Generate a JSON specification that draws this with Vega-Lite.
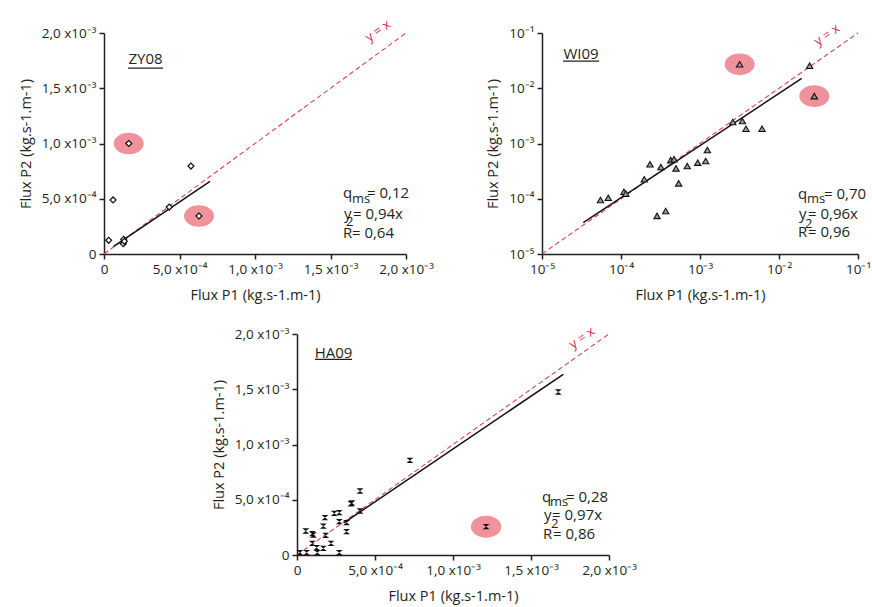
{
  "$schema": "https://vega.github.io/schema/vega-lite/v6.json",
  "background": "white",
  "padding": {"left": 18, "top": 18, "right": 5, "bottom": 5},
  "config": {
    "view": {"stroke": null},
    "font": "Open Sans",
    "axis": {"grid": false, "domainColor": "#231f20", "domainWidth": 1.5, "tickColor": "#231f20", "tickWidth": 1.5, "tickSize": 5, "labelFont": "Open Sans", "labelFontSize": 13.5, "labelColor": "#231f20", "titleFont": "Open Sans", "titleFontSize": 14.5, "titleFontWeight": "normal", "titleColor": "#231f20", "labelOverlap": false, "labelFlush": false, "labelBound": false, "labelPadding": 3},
    "axisX": {"titlePadding": 13},
    "axisY": {"titlePadding": 8}
  },
  "datasets": {
    "diag_lin": [{"x": 0, "y": 0}, {"x": 0.002, "y": 0.002}],
    "diag_log": [{"x": 1e-5, "y": 1e-5}, {"x": 0.1, "y": 0.1}],
    "zy_pts": [
      {"x": 1.64e-4, "y": 1.0e-3, "hl": 1},
      {"x": 5.76e-4, "y": 7.96e-4, "hl": 0},
      {"x": 6.0e-5, "y": 4.89e-4, "hl": 0},
      {"x": 4.32e-4, "y": 4.25e-4, "hl": 0},
      {"x": 6.29e-4, "y": 3.44e-4, "hl": 1},
      {"x": 3.1e-5, "y": 1.24e-4, "hl": 0},
      {"x": 1.3e-4, "y": 1.33e-4, "hl": 0},
      {"x": 1.28e-4, "y": 9.3e-5, "hl": 0},
      {"x": 1.35e-4, "y": 1.15e-4, "hl": 0}
    ],
    "zy_fit": [{"x": 6.2e-5, "y": 6.6e-5}, {"x": 7.02e-4, "y": 6.58e-4}],
    "zy_ul": [{"x": 1.59e-4, "y": 1.683e-3}, {"x": 3.91e-4, "y": 1.683e-3}],
    "zy_title": [{"x": 2.75e-4, "y": 1.765e-3, "t": "ZY08"}],
    "zy_yx": [{"x": 1.815e-3, "y": 2.018e-3, "t": "y = x"}],
    "zy_txt": [
      {"x": 1.583e-3, "y": 0.552e-3, "t": "q"},
      {"x": 1.742e-3, "y": 0.552e-3, "t": "= 0,12"},
      {"x": 1.589e-3, "y": 0.362e-3, "t": "y"},
      {"x": 1.649e-3, "y": 0.362e-3, "t": "= 0,94x"},
      {"x": 1.583e-3, "y": 0.19e-3, "t": "R"},
      {"x": 1.642e-3, "y": 0.19e-3, "t": "= 0,64"}
    ],
    "zy_sub": [
      {"x": 1.642e-3, "y": 0.498e-3, "t": "ms"},
      {"x": 1.603e-3, "y": 0.29e-3, "t": "2"}
    ],
    "wi_pts": [
      {"x": 5.5e-5, "y": 9.5e-5, "hl": 0},
      {"x": 6.9e-5, "y": 1.04e-4, "hl": 0},
      {"x": 1.09e-4, "y": 1.34e-4, "hl": 0},
      {"x": 1.15e-4, "y": 1.24e-4, "hl": 0},
      {"x": 1.97e-4, "y": 2.25e-4, "hl": 0},
      {"x": 2.33e-4, "y": 4.2e-4, "hl": 0},
      {"x": 3.2e-4, "y": 3.76e-4, "hl": 0},
      {"x": 2.86e-4, "y": 4.9e-5, "hl": 0},
      {"x": 3.68e-4, "y": 6.0e-5, "hl": 0},
      {"x": 4.26e-4, "y": 5.0e-4, "hl": 0},
      {"x": 4.69e-4, "y": 5.2e-4, "hl": 0},
      {"x": 4.97e-4, "y": 3.55e-4, "hl": 0},
      {"x": 5.37e-4, "y": 1.9e-4, "hl": 0},
      {"x": 6.9e-4, "y": 3.92e-4, "hl": 0},
      {"x": 9.35e-4, "y": 4.5e-4, "hl": 0},
      {"x": 1.18e-3, "y": 4.82e-4, "hl": 0},
      {"x": 1.24e-3, "y": 7.6e-4, "hl": 0},
      {"x": 2.6e-3, "y": 2.45e-3, "hl": 0},
      {"x": 3.44e-3, "y": 2.55e-3, "hl": 0},
      {"x": 3.82e-3, "y": 1.85e-3, "hl": 0},
      {"x": 6.1e-3, "y": 1.85e-3, "hl": 0},
      {"x": 3.18e-3, "y": 2.71e-2, "hl": 1},
      {"x": 2.44e-2, "y": 2.56e-2, "hl": 0},
      {"x": 2.8e-2, "y": 7.2e-3, "hl": 1}
    ],
    "wi_fit": [{"x": 3.33e-5, "y": 3.69e-5}, {"x": 1.94e-2, "y": 1.51e-2}],
    "wi_ul": [{"x": 1.85e-5, "y": 3.11e-2}, {"x": 5.28e-5, "y": 3.11e-2}],
    "wi_title": [{"x": 3.12e-5, "y": 4.17e-2, "t": "WI09"}],
    "wi_yx": [{"x": 4.06e-2, "y": 9.2e-2, "t": "y = x"}],
    "wi_txt": [
      {"x": 1.74e-2, "y": 1.22e-4, "t": "q"},
      {"x": 3.72e-2, "y": 1.22e-4, "t": "= 0,70"},
      {"x": 1.79e-2, "y": 5.3e-5, "t": "y"},
      {"x": 2.33e-2, "y": 5.3e-5, "t": "= 0,96x"},
      {"x": 1.74e-2, "y": 2.5e-5, "t": "R"},
      {"x": 2.33e-2, "y": 2.5e-5, "t": "= 0,96"}
    ],
    "wi_sub": [
      {"x": 2.26e-2, "y": 9.9e-5, "t": "ms"},
      {"x": 2.13e-2, "y": 3.49e-5, "t": "2"}
    ],
    "ha_pts": [
      {"x": 1.675e-3, "y": 1.475e-3, "hl": 0},
      {"x": 0.724e-3, "y": 0.857e-3, "hl": 0},
      {"x": 0.404e-3, "y": 0.579e-3, "hl": 0},
      {"x": 0.346e-3, "y": 0.464e-3, "hl": 0},
      {"x": 0.352e-3, "y": 0.472e-3, "hl": 0},
      {"x": 0.404e-3, "y": 0.398e-3, "hl": 0},
      {"x": 0.239e-3, "y": 0.377e-3, "hl": 0},
      {"x": 0.271e-3, "y": 0.383e-3, "hl": 0},
      {"x": 0.179e-3, "y": 0.338e-3, "hl": 0},
      {"x": 0.271e-3, "y": 0.302e-3, "hl": 0},
      {"x": 0.318e-3, "y": 0.293e-3, "hl": 0},
      {"x": 0.318e-3, "y": 0.211e-3, "hl": 0},
      {"x": 0.169e-3, "y": 0.262e-3, "hl": 0},
      {"x": 0.056e-3, "y": 0.217e-3, "hl": 0},
      {"x": 0.098e-3, "y": 0.193e-3, "hl": 0},
      {"x": 0.105e-3, "y": 0.181e-3, "hl": 0},
      {"x": 0.184e-3, "y": 0.178e-3, "hl": 0},
      {"x": 0.098e-3, "y": 0.106e-3, "hl": 0},
      {"x": 0.218e-3, "y": 0.106e-3, "hl": 0},
      {"x": 0.126e-3, "y": 0.066e-3, "hl": 0},
      {"x": 0.169e-3, "y": 0.06e-3, "hl": 0},
      {"x": 0.13e-3, "y": 0.021e-3, "hl": 0},
      {"x": 0.271e-3, "y": 0.021e-3, "hl": 0},
      {"x": 0.019e-3, "y": 0.021e-3, "hl": 0},
      {"x": 0.062e-3, "y": 0.021e-3, "hl": 0},
      {"x": 1.212e-3, "y": 0.256e-3, "hl": 1}
    ],
    "ha_fit": [{"x": 0.30e-3, "y": 0.29e-3}, {"x": 1.707e-3, "y": 1.635e-3}],
    "ha_ul": [{"x": 0.115e-3, "y": 1.771e-3}, {"x": 0.353e-3, "y": 1.771e-3}],
    "ha_title": [{"x": 0.234e-3, "y": 1.831e-3, "t": "HA09"}],
    "ha_yx": [{"x": 1.827e-3, "y": 1.964e-3, "t": "y = x"}],
    "ha_txt": [
      {"x": 1.571e-3, "y": 0.525e-3, "t": "q"},
      {"x": 1.724e-3, "y": 0.525e-3, "t": "= 0,28"},
      {"x": 1.583e-3, "y": 0.362e-3, "t": "y"},
      {"x": 1.635e-3, "y": 0.362e-3, "t": "= 0,97x"},
      {"x": 1.577e-3, "y": 0.19e-3, "t": "R"},
      {"x": 1.641e-3, "y": 0.19e-3, "t": "= 0,86"}
    ],
    "ha_sub": [
      {"x": 1.622e-3, "y": 0.48e-3, "t": "ms"},
      {"x": 1.628e-3, "y": 0.281e-3, "t": "2"}
    ],
    "spacer": [{"a": 0}]
  },
  "spacing": 23,
  "vconcat": [
    {
      "bounds": "flush",
      "spacing": 136,
      "hconcat": [
        {
          "width": 302,
          "height": 221,
          "encoding": {
            "x": {"field": "x", "type": "quantitative", "title": "Flux P1 (kg.s-1.m-1)", "scale": {"domain": [0, 0.002], "nice": false, "zero": false}, "axis": {"values": [0, 0.0005, 0.001, 0.0015, 0.002], "labelExpr": "datum.value == 0 ? '0' : datum.value < 0.0008 ? '5,0 x10⁻⁴' : datum.value < 0.0012 ? '1,0 x10⁻³' : datum.value < 0.0017 ? '1,5 x10⁻³' : '2,0 x10⁻³'"}},
            "y": {"field": "y", "type": "quantitative", "title": "Flux P2 (kg.s-1.m-1)", "scale": {"domain": [0, 0.002], "nice": false, "zero": false}, "axis": {"values": [0, 0.0005, 0.001, 0.0015, 0.002], "labelExpr": "datum.value == 0 ? '0' : datum.value < 0.0008 ? '5,0 x10⁻⁴' : datum.value < 0.0012 ? '1,0 x10⁻³' : datum.value < 0.0017 ? '1,5 x10⁻³' : '2,0 x10⁻³'"}}
          },
          "layer": [
            {"data": {"name": "zy_pts"}, "transform": [{"filter": "datum.hl == 1"}], "mark": {"type": "point", "shape": "M-1,0A1,0.72,0,1,1,1,0A1,0.72,0,1,1,-1,0Z", "filled": true, "color": "#f0929b", "opacity": 1, "size": 900}},
            {"data": {"name": "diag_lin"}, "mark": {"type": "line", "color": "#d9425a", "strokeDash": [5, 3], "strokeWidth": 1.1}},
            {"data": {"name": "zy_fit"}, "mark": {"type": "line", "color": "#111111", "strokeWidth": 1.5}},
            {"data": {"name": "zy_ul"}, "mark": {"type": "line", "color": "#231f20", "strokeWidth": 1.3}},
            {"data": {"name": "zy_pts"}, "mark": {"type": "point", "shape": "diamond", "filled": true, "fill": "white", "stroke": "#111111", "strokeWidth": 1.2, "opacity": 1, "size": 36}},
            {"data": {"name": "zy_title"}, "mark": {"type": "text", "fontSize": 15, "align": "center", "baseline": "middle", "color": "#231f20"}, "encoding": {"text": {"field": "t"}}},
            {"data": {"name": "zy_yx"}, "mark": {"type": "text", "fontSize": 13, "align": "center", "baseline": "middle", "angle": 324, "color": "#d42c4f"}, "encoding": {"text": {"field": "t"}}},
            {"data": {"name": "zy_txt"}, "mark": {"type": "text", "fontSize": 15, "align": "left", "baseline": "middle", "color": "#231f20"}, "encoding": {"text": {"field": "t"}}},
            {"data": {"name": "zy_sub"}, "mark": {"type": "text", "fontSize": 13, "align": "left", "baseline": "middle", "color": "#231f20"}, "encoding": {"text": {"field": "t"}}}
          ]
        },
        {
          "width": 316,
          "height": 221,
          "encoding": {
            "x": {"field": "x", "type": "quantitative", "title": "Flux P1 (kg.s-1.m-1)", "scale": {"type": "log", "domain": [1e-5, 0.1], "nice": false}, "axis": {"values": [1e-5, 1e-4, 1e-3, 1e-2, 1e-1], "labelExpr": "'10' + ['⁻⁵','⁻⁴','⁻³','⁻²','⁻¹'][round(log(datum.value)/LN10) + 5]"}},
            "y": {"field": "y", "type": "quantitative", "title": "Flux P2 (kg.s-1.m-1)", "scale": {"type": "log", "domain": [1e-5, 0.1], "nice": false}, "axis": {"values": [1e-5, 1e-4, 1e-3, 1e-2, 1e-1], "labelExpr": "'10' + ['⁻⁵','⁻⁴','⁻³','⁻²','⁻¹'][round(log(datum.value)/LN10) + 5]"}}
          },
          "layer": [
            {"data": {"name": "wi_pts"}, "transform": [{"filter": "datum.hl == 1"}], "mark": {"type": "point", "shape": "M-1,0A1,0.72,0,1,1,1,0A1,0.72,0,1,1,-1,0Z", "filled": true, "color": "#f0929b", "opacity": 1, "size": 900}},
            {"data": {"name": "diag_log"}, "mark": {"type": "line", "color": "#d9425a", "strokeDash": [5, 3], "strokeWidth": 1.1}},
            {"data": {"name": "wi_fit"}, "mark": {"type": "line", "color": "#111111", "strokeWidth": 1.5}},
            {"data": {"name": "wi_ul"}, "mark": {"type": "line", "color": "#231f20", "strokeWidth": 1.3}},
            {"data": {"name": "wi_pts"}, "mark": {"type": "point", "shape": "triangle-up", "filled": true, "fill": "#9a9a9a", "stroke": "#111111", "strokeWidth": 1.1, "opacity": 1, "size": 40}},
            {"data": {"name": "wi_title"}, "mark": {"type": "text", "fontSize": 15, "align": "center", "baseline": "middle", "color": "#231f20"}, "encoding": {"text": {"field": "t"}}},
            {"data": {"name": "wi_yx"}, "mark": {"type": "text", "fontSize": 13, "align": "center", "baseline": "middle", "angle": 325, "color": "#d42c4f"}, "encoding": {"text": {"field": "t"}}},
            {"data": {"name": "wi_txt"}, "mark": {"type": "text", "fontSize": 15, "align": "left", "baseline": "middle", "color": "#231f20"}, "encoding": {"text": {"field": "t"}}},
            {"data": {"name": "wi_sub"}, "mark": {"type": "text", "fontSize": 13, "align": "left", "baseline": "middle", "color": "#231f20"}, "encoding": {"text": {"field": "t"}}}
          ]
        }
      ]
    },
    {
      "bounds": "flush",
      "spacing": 183,
      "hconcat": [
        {
          "width": 10,
          "height": 221,
          "data": {"name": "spacer"},
          "mark": {"type": "point", "opacity": 0},
          "encoding": {}
        },
        {
          "width": 312,
          "height": 221,
          "encoding": {
            "x": {"field": "x", "type": "quantitative", "title": "Flux P1 (kg.s-1.m-1)", "scale": {"domain": [0, 0.002], "nice": false, "zero": false}, "axis": {"values": [0, 0.0005, 0.001, 0.0015, 0.002], "labelExpr": "datum.value == 0 ? '0' : datum.value < 0.0008 ? '5,0 x10⁻⁴' : datum.value < 0.0012 ? '1,0 x10⁻³' : datum.value < 0.0017 ? '1,5 x10⁻³' : '2,0 x10⁻³'"}},
            "y": {"field": "y", "type": "quantitative", "title": "Flux P2 (kg.s-1.m-1)", "scale": {"domain": [0, 0.002], "nice": false, "zero": false}, "axis": {"values": [0, 0.0005, 0.001, 0.0015, 0.002], "labelExpr": "datum.value == 0 ? '0' : datum.value < 0.0008 ? '5,0 x10⁻⁴' : datum.value < 0.0012 ? '1,0 x10⁻³' : datum.value < 0.0017 ? '1,5 x10⁻³' : '2,0 x10⁻³'"}}
          },
          "layer": [
            {"data": {"name": "ha_pts"}, "transform": [{"filter": "datum.hl == 1"}], "mark": {"type": "point", "shape": "M-1,0A1,0.72,0,1,1,1,0A1,0.72,0,1,1,-1,0Z", "filled": true, "color": "#f0929b", "opacity": 1, "size": 930}},
            {"data": {"name": "diag_lin"}, "mark": {"type": "line", "color": "#d9425a", "strokeDash": [5, 3], "strokeWidth": 1.1}},
            {"data": {"name": "ha_fit"}, "mark": {"type": "line", "color": "#111111", "strokeWidth": 1.5}},
            {"data": {"name": "ha_ul"}, "mark": {"type": "line", "color": "#231f20", "strokeWidth": 1.3}},
            {"data": {"name": "ha_pts"}, "mark": {"type": "point", "shape": "M-1,-0.75L1,-0.75L-1,0.75L1,0.75Z", "filled": true, "color": "#111111", "opacity": 1, "size": 50}},
            {"data": {"name": "ha_title"}, "mark": {"type": "text", "fontSize": 15, "align": "center", "baseline": "middle", "color": "#231f20"}, "encoding": {"text": {"field": "t"}}},
            {"data": {"name": "ha_yx"}, "mark": {"type": "text", "fontSize": 13, "align": "center", "baseline": "middle", "angle": 325, "color": "#d42c4f"}, "encoding": {"text": {"field": "t"}}},
            {"data": {"name": "ha_txt"}, "mark": {"type": "text", "fontSize": 15, "align": "left", "baseline": "middle", "color": "#231f20"}, "encoding": {"text": {"field": "t"}}},
            {"data": {"name": "ha_sub"}, "mark": {"type": "text", "fontSize": 13, "align": "left", "baseline": "middle", "color": "#231f20"}, "encoding": {"text": {"field": "t"}}}
          ]
        }
      ]
    }
  ]
}
